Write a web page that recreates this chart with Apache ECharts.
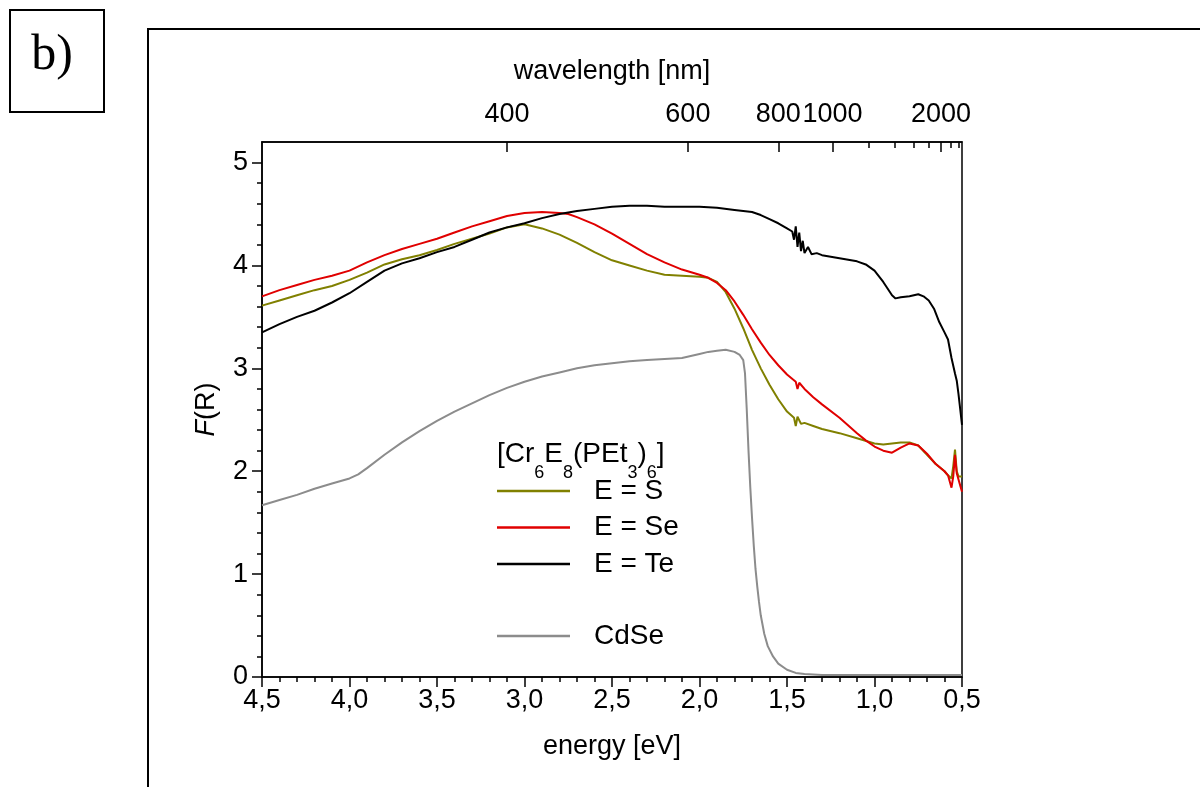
<!DOCTYPE html>
<html><head><meta charset="utf-8">
<script src="https://cdn.jsdelivr.net/npm/echarts@6/dist/echarts.min.js"></script>
<style>html,body{margin:0;padding:0;background:#fff}#c{width:1200px;height:787px}</style>
</head><body><div id="c"></div>
<script>
// ---- data ----
const yTickValues = [0, 1, 2, 3, 4, 5];
const wavelengthMajor = [400, 600, 800, 1000, 2000];
const wavelengthMinor = [1200, 1400, 1600, 1800, 2200, 2400];
const seriesNames = ['E = S', 'E = Se', 'E = Te', 'CdSe'];

const sEnergy = [4.5,4.4,4.3,4.2,4.1,4.0,3.9,3.8,3.7,3.6,3.5,3.4,3.3,3.2,3.1,3.0,2.9,2.8,2.7,2.6,2.5,2.4,2.3,2.2,2.1,2.0,1.95,1.9,1.85,1.8,1.75,1.7,1.65,1.6,1.55,1.5,1.46,1.45,1.44,1.42,1.4,1.35,1.3,1.2,1.1,1.0,0.95,0.9,0.85,0.8,0.75,0.7,0.65,0.6,0.58,0.56,0.55,0.54,0.53,0.52,0.5];
const sValue  = [3.61,3.66,3.71,3.76,3.80,3.86,3.93,4.01,4.06,4.10,4.15,4.21,4.26,4.31,4.37,4.40,4.36,4.30,4.22,4.13,4.05,4.00,3.95,3.91,3.90,3.89,3.88,3.84,3.74,3.58,3.39,3.18,3.00,2.84,2.70,2.58,2.52,2.44,2.53,2.46,2.47,2.44,2.41,2.37,2.32,2.27,2.26,2.27,2.28,2.28,2.25,2.16,2.07,2.00,1.96,1.93,2.05,2.21,2.00,1.95,1.95];

const seEnergy = [4.5,4.4,4.3,4.2,4.1,4.0,3.9,3.8,3.7,3.6,3.5,3.4,3.3,3.2,3.1,3.0,2.9,2.8,2.75,2.7,2.6,2.5,2.4,2.3,2.2,2.1,2.0,1.95,1.9,1.85,1.8,1.75,1.7,1.65,1.6,1.55,1.5,1.45,1.44,1.43,1.4,1.35,1.3,1.2,1.1,1.05,1.0,0.95,0.9,0.85,0.8,0.75,0.7,0.65,0.6,0.58,0.56,0.55,0.54,0.53,0.52,0.51,0.5];
const seValue  = [3.70,3.76,3.81,3.86,3.90,3.95,4.03,4.10,4.16,4.21,4.26,4.32,4.38,4.43,4.48,4.51,4.52,4.51,4.50,4.47,4.40,4.31,4.21,4.11,4.03,3.96,3.91,3.88,3.83,3.76,3.65,3.52,3.38,3.25,3.13,3.03,2.94,2.87,2.80,2.86,2.80,2.72,2.65,2.52,2.37,2.30,2.24,2.20,2.18,2.23,2.27,2.25,2.17,2.07,2.00,1.96,1.84,1.95,2.16,1.98,1.92,1.86,1.80];

const teEnergy = [4.5,4.4,4.3,4.2,4.1,4.0,3.9,3.8,3.7,3.6,3.5,3.4,3.3,3.2,3.1,3.0,2.9,2.8,2.7,2.6,2.5,2.4,2.3,2.2,2.1,2.0,1.9,1.8,1.7,1.65,1.6,1.55,1.5,1.47,1.46,1.45,1.44,1.43,1.42,1.41,1.4,1.38,1.36,1.33,1.3,1.2,1.1,1.05,1.0,0.95,0.9,0.88,0.85,0.8,0.75,0.72,0.69,0.66,0.63,0.6,0.58,0.56,0.54,0.53,0.52,0.51,0.5];
const teValue  = [3.35,3.43,3.50,3.56,3.64,3.73,3.84,3.95,4.02,4.07,4.13,4.18,4.25,4.32,4.37,4.41,4.46,4.50,4.53,4.55,4.57,4.58,4.58,4.57,4.57,4.57,4.56,4.54,4.52,4.49,4.45,4.41,4.36,4.33,4.25,4.38,4.18,4.32,4.14,4.24,4.12,4.18,4.11,4.12,4.10,4.07,4.04,4.01,3.95,3.84,3.71,3.68,3.69,3.70,3.72,3.70,3.66,3.58,3.45,3.35,3.28,3.10,2.95,2.88,2.75,2.60,2.45];

const cdEnergy = [4.5,4.4,4.3,4.2,4.1,4.0,3.95,3.9,3.8,3.7,3.6,3.5,3.4,3.3,3.2,3.1,3.0,2.9,2.8,2.7,2.6,2.5,2.4,2.3,2.2,2.1,2.05,2.0,1.95,1.9,1.85,1.8,1.77,1.75,1.74,1.73,1.72,1.71,1.70,1.69,1.68,1.67,1.66,1.65,1.63,1.61,1.58,1.55,1.5,1.45,1.4,1.3,1.0,0.5];
const cdValue  = [1.67,1.72,1.77,1.83,1.88,1.93,1.97,2.03,2.16,2.28,2.39,2.49,2.58,2.66,2.74,2.81,2.87,2.92,2.96,3.00,3.03,3.05,3.07,3.08,3.09,3.10,3.12,3.14,3.16,3.17,3.18,3.16,3.13,3.08,2.95,2.60,2.20,1.85,1.55,1.28,1.05,0.88,0.73,0.60,0.42,0.30,0.20,0.13,0.07,0.04,0.03,0.02,0.02,0.02];

const colors = ['#808000', '#e00000', '#000000', '#8c8c8c'];

// ---- helpers ----
const zip = (xs, ys) => xs.map((x, i) => [x, ys[i]]);
const HC = 1239.84;
const toEnergy = nm => HC / nm;
const FONT = 'Liberation Sans, Arial, sans-serif';
const AXFS = 27;

const chart = echarts.init(document.getElementById('c'), null, {renderer: 'canvas'});

const axisLineStyle = {color: '#000', width: 1.5};
const lineSeries = (name, data, color) => ({
  name, type: 'line', data, xAxisIndex: 0, yAxisIndex: 0,
  symbol: 'none', showSymbol: false, smooth: false,
  lineStyle: {color, width: 2}, itemStyle: {color},
  emphasis: {disabled: true}, z: 3
});
const legendText = {fontSize: 28, lineHeight: 28, color: '#000', fontFamily: FONT, padding: [0, 0, 0, 19]};

chart.setOption({
  animation: false,
  backgroundColor: '#fff',
  textStyle: {fontFamily: FONT, color: '#000'},
  grid: {left: 262, right: 238, top: 142, bottom: 110, show: true, borderColor: '#000', borderWidth: 1.5, containLabel: false},
  title: {
    text: '{m|[Cr}{s|6}{m|E}{s|8}{m|(PEt}{s|3}{m|)}{s|6}{m|]}',
    left: 497, top: 440, padding: 0,
    textStyle: {
      fontFamily: FONT, fontWeight: 'normal', color: '#000',
      rich: {
        m: {fontSize: 28, lineHeight: 30, verticalAlign: 'top', fontFamily: FONT, color: '#000'},
        s: {fontSize: 18, lineHeight: 18, verticalAlign: 'top', padding: [24, 0, 0, 0], fontFamily: FONT, color: '#000'}
      }
    }
  },
  legend: [
    {
      data: seriesNames.slice(0, 3), orient: 'vertical', left: 497, top: 477,
      icon: 'rect', itemWidth: 73, itemHeight: 2.5, itemGap: 8.5, padding: 0, selectedMode: false,
      textStyle: legendText
    },
    {
      data: seriesNames.slice(3), orient: 'vertical', left: 497, top: 622,
      icon: 'rect', itemWidth: 73, itemHeight: 2.5, padding: 0, selectedMode: false,
      textStyle: legendText
    }
  ],
  xAxis: [
    {
      type: 'value', position: 'bottom', min: 0.5, max: 4.5, interval: 0.5, inverse: true,
      name: 'energy [eV]', nameLocation: 'middle', nameGap: 56,
      nameTextStyle: {fontSize: AXFS, color: '#000', fontFamily: FONT},
      axisLine: {show: true, onZero: false, lineStyle: axisLineStyle},
      axisTick: {show: true, inside: false, length: 10, lineStyle: axisLineStyle},
      minorTick: {show: true, splitNumber: 5, length: 5, lineStyle: {color: '#000', width: 1.5}},
      axisLabel: {fontSize: AXFS, color: '#000', margin: 10, fontFamily: FONT,
        formatter: v => v.toFixed(1).replace('.', ',')},
      splitLine: {show: false}
    },
    {
      type: 'value', position: 'top', min: 0.5, max: 4.5, inverse: true,
      name: 'wavelength [nm]', nameLocation: 'middle', nameGap: 57,
      nameTextStyle: {fontSize: AXFS, color: '#000', fontFamily: FONT},
      axisLine: {show: true, onZero: false, lineStyle: axisLineStyle},
      axisTick: {show: true, inside: true, length: 10, lineStyle: axisLineStyle,
        customValues: wavelengthMajor.map(toEnergy)},
      axisLabel: {fontSize: AXFS, color: '#000', margin: 14, fontFamily: FONT,
        customValues: wavelengthMajor.map(toEnergy),
        formatter: v => String(Math.round(HC / v / 100) * 100)},
      splitLine: {show: false}
    },
    {
      type: 'value', position: 'top', min: 0.5, max: 4.5, inverse: true,
      axisLine: {show: false, onZero: false},
      axisTick: {show: true, inside: true, length: 6, lineStyle: axisLineStyle,
        customValues: wavelengthMinor.map(toEnergy)},
      axisLabel: {show: false},
      splitLine: {show: false}
    }
  ],
  yAxis: [
    {
      type: 'value', min: 0, max: 5.2, interval: 1,
      name: '{i|F}(R)', nameLocation: 'middle', nameGap: 42, nameRotate: 90,
      nameTextStyle: {fontSize: AXFS, color: '#000', fontFamily: FONT,
        rich: {i: {fontStyle: 'italic', fontSize: AXFS, color: '#000', fontFamily: FONT}}},
      axisLine: {show: true, onZero: false, lineStyle: axisLineStyle},
      axisTick: {show: true, inside: false, length: 10, lineStyle: axisLineStyle, customValues: yTickValues},
      minorTick: {show: true, splitNumber: 5, length: 5, lineStyle: {color: '#000', width: 1.5}},
      axisLabel: {fontSize: AXFS, color: '#000', margin: 14, fontFamily: FONT, customValues: yTickValues},
      splitLine: {show: false}
    }
  ],
  graphic: [
    {type: 'rect', shape: {x: 10, y: 10, width: 94, height: 102}, style: {fill: 'none', stroke: '#000', lineWidth: 2}},
    {type: 'text', x: 52, y: 56, style: {text: 'b)', font: '50px "Liberation Serif", "Times New Roman", serif', fill: '#000', align: 'center', verticalAlign: 'middle'}},
    {type: 'polyline', shape: {points: [[148, 787], [148, 29], [1200, 29]]}, style: {fill: 'none', stroke: '#000', lineWidth: 2}}
  ],
  series: [
    lineSeries(seriesNames[3], zip(cdEnergy, cdValue), colors[3]),
    lineSeries(seriesNames[0], zip(sEnergy, sValue), colors[0]),
    lineSeries(seriesNames[1], zip(seEnergy, seValue), colors[1]),
    lineSeries(seriesNames[2], zip(teEnergy, teValue), colors[2])
  ]
});
</script>
</body></html>
